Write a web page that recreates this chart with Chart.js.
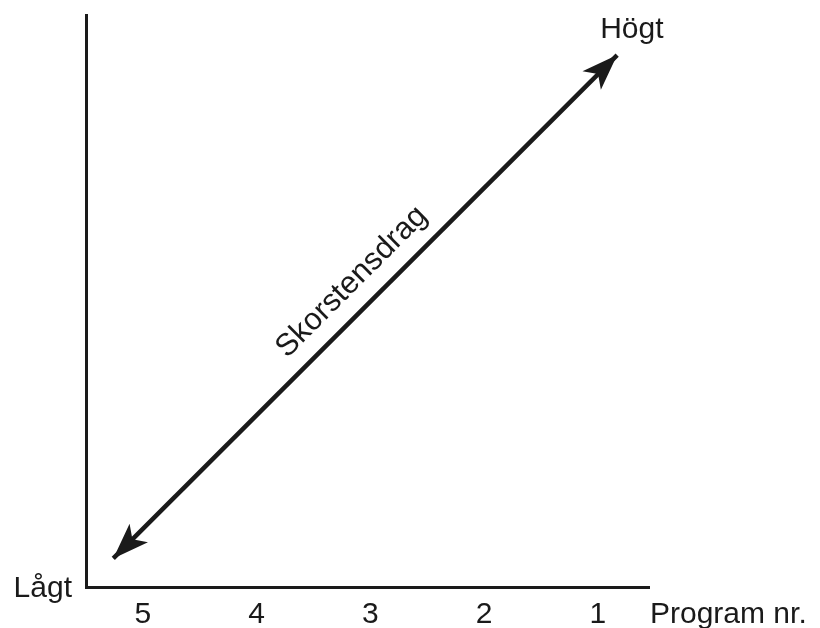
<!DOCTYPE html>
<html>
    <head>
        <meta charset="utf-8">
        <title>Skorstensdrag</title>
        <style>
            html, body { margin: 0; padding: 0; background: #fff; }
            .chart-container { position: relative; width: 820px; height: 628px; }
        </style>
        <script src="https://cdn.jsdelivr.net/npm/chart.js@4.4.1/dist/chart.umd.min.js"></script>
    </head>
    <body>
        <div class="chart-container">
            <canvas id="draftChart"></canvas>
        </div>

        <script>
            // DATA VALUES
            var programLabels = ['5', '4', '3', '2', '1'];
            var programPositions = [1, 2, 3, 4, 5];
            var arrowLine = [
                {x: 0.74, y: 0.5},
                {x: 5.17, y: 9.3}
            ];
            var axisTitleX = 'Program nr.';
            var lowLabel = 'Lågt';
            var highLabel = 'Högt';
            var arrowLabel = 'Skorstensdrag';

            var FONT = '"Liberation Sans", Arial, Helvetica, sans-serif';
            var INK = '#1a1a1a';

            function drawHead(ctx, tip, from) {
                var ang = Math.atan2(tip.y - from.y, tip.x - from.x);
                var len = 36, half = 13, notch = 27;
                ctx.save();
                ctx.translate(tip.x, tip.y);
                ctx.rotate(ang);
                ctx.beginPath();
                ctx.moveTo(0, 0);
                ctx.lineTo(-len, -half);
                ctx.lineTo(-notch, 0);
                ctx.lineTo(-len, half);
                ctx.closePath();
                ctx.fillStyle = INK;
                ctx.fill();
                ctx.restore();
            }

            // draws arrow heads + free texts, positions come from the scales
            const annotations = {
                id: 'annotations',
                afterDatasetsDraw(chart) {
                    const ctx = chart.ctx;
                    const xs = chart.scales.x, ys = chart.scales.y;
                    const a = {x: xs.getPixelForValue(arrowLine[0].x), y: ys.getPixelForValue(arrowLine[0].y)};
                    const b = {x: xs.getPixelForValue(arrowLine[1].x), y: ys.getPixelForValue(arrowLine[1].y)};
                    drawHead(ctx, a, b);
                    drawHead(ctx, b, a);

                    ctx.save();
                    ctx.fillStyle = INK;
                    ctx.font = '30px ' + FONT;

                    // Lågt at the bottom left of the y axis
                    ctx.textAlign = 'right';
                    ctx.textBaseline = 'alphabetic';
                    ctx.fillText(lowLabel, xs.left - 14, ys.bottom + 10);

                    // Högt at the top
                    ctx.textAlign = 'left';
                    ctx.fillText(highLabel, b.x - 17, 38);

                    // x axis title
                    ctx.fillText(axisTitleX, xs.right + 1, 623);

                    // label along the arrow
                    const ang = Math.atan2(b.y - a.y, b.x - a.x);
                    const mx = (a.x + b.x) / 2 + Math.cos(ang) * 8;
                    const my = (a.y + b.y) / 2 + Math.sin(ang) * 8;
                    const off = 27;
                    ctx.font = '31px ' + FONT;
                    ctx.translate(mx + Math.sin(ang) * off, my - Math.cos(ang) * off);
                    ctx.rotate(ang);
                    ctx.textAlign = 'center';
                    ctx.textBaseline = 'middle';
                    ctx.fillText(arrowLabel, 0, 0);
                    ctx.restore();
                }
            };

            const data = {
                datasets: [{
                    label: arrowLabel,
                    data: arrowLine,
                    showLine: true,
                    borderColor: INK,
                    borderWidth: 4.5,
                    pointRadius: 0
                }]
            };

            const config = {
                type: 'scatter',
                data: data,
                options: {
                    responsive: true,
                    maintainAspectRatio: false,
                    animation: false,
                    layout: {
                        padding: {left: 86, right: 171, top: 15, bottom: 0}
                    },
                    plugins: {
                        legend: {display: false},
                        tooltip: {enabled: false}
                    },
                    scales: {
                        x: {
                            type: 'linear',
                            min: 0.5,
                            max: 5.45,
                            afterBuildTicks: (scale) => {
                                scale.ticks = programPositions.map(v => ({value: v}));
                            },
                            afterFit: (scale) => { scale.height = 41; },
                            grid: {display: false, drawTicks: false},
                            border: {display: true, color: INK, width: 3},
                            ticks: {
                                color: INK,
                                padding: 10,
                                maxRotation: 0,
                                autoSkip: false,
                                font: {family: FONT, size: 30},
                                callback: (value) => programLabels[programPositions.indexOf(value)]
                            }
                        },
                        y: {
                            min: 0,
                            max: 10,
                            afterFit: (scale) => { scale.width = 0; },
                            grid: {display: false, drawTicks: false},
                            border: {display: true, color: INK, width: 3},
                            ticks: {display: false}
                        }
                    }
                },
                plugins: [annotations]
            };

            const draftChart = new Chart('draftChart', config);
        </script>
    </body>
</html>
